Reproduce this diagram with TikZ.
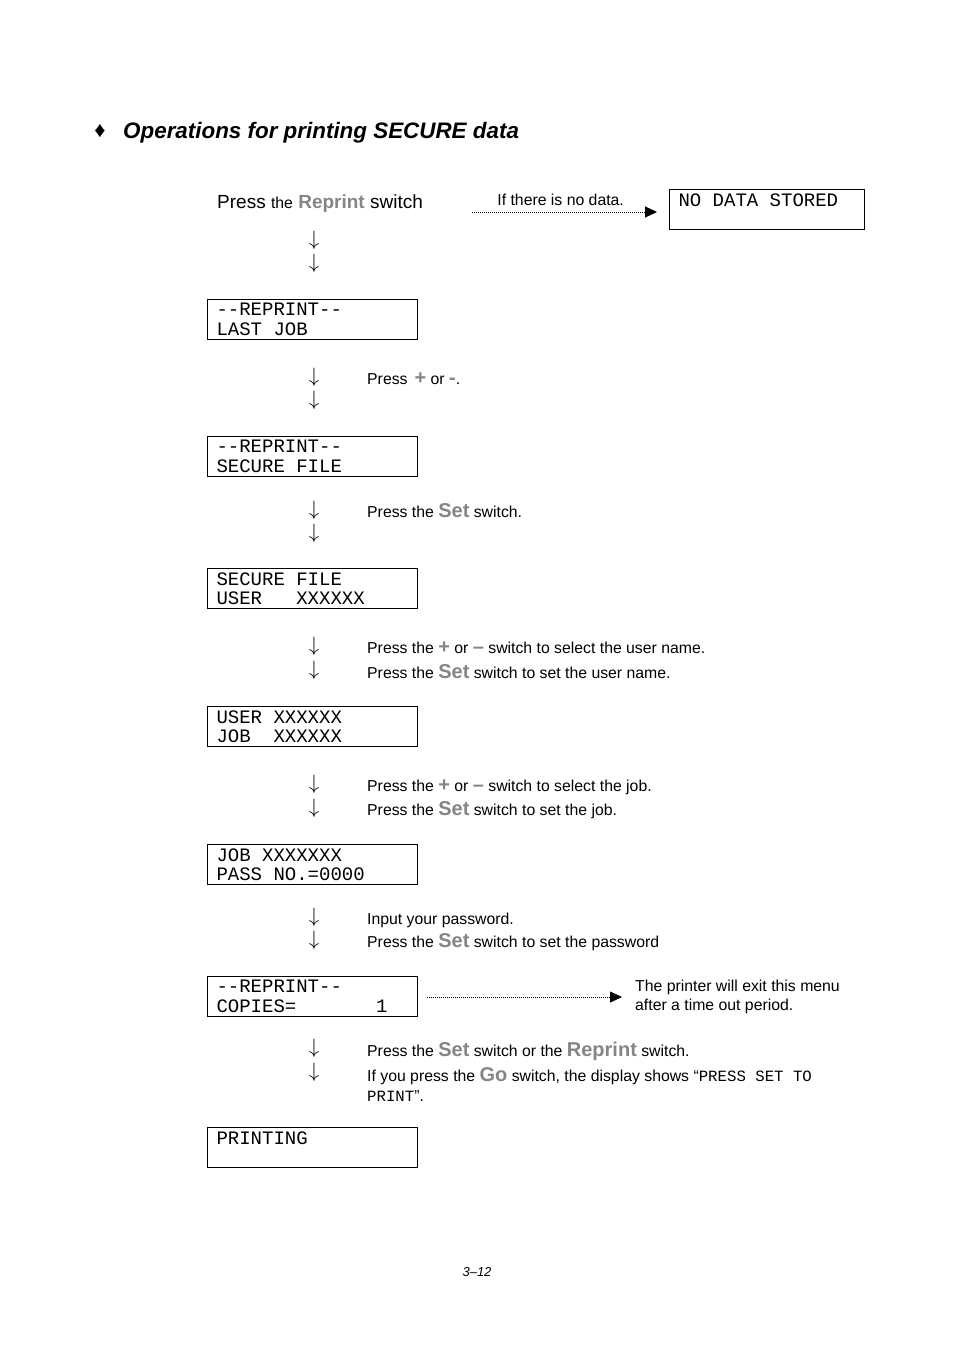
\documentclass[tikz,border=0pt]{standalone}
\usepackage{fontspec}
\setmainfont{Liberation Sans}
\newfontfamily\lcdfamily{Liberation Mono}[Ligatures=ResetAll]
\usepackage{tikz}
\usetikzlibrary{positioning,arrows.meta}
\definecolor{keygray}{HTML}{858585}
\newcommand{\bodyfont}{\fontsize{15.8}{19}\selectfont}
\newcommand{\lcdfont}{\lcdfamily\fontsize{19}{19.5}\selectfont}
\newcommand{\titlefont}{\fontsize{22.4}{26}\selectfont\bfseries\itshape}
\newcommand{\keyname}[1]{{\fontsize{20}{20}\selectfont\bfseries\color{keygray}#1}}
\newcommand{\monotext}[1]{{\lcdfamily\fontsize{15.7}{19}\selectfont #1}}

\begin{document}
\begin{tikzpicture}[x=1pt,y=-1pt,
  lcd/.style={draw,line width=1pt,anchor=north west,minimum height=40pt,text width=192pt,inner xsep=9pt,inner ysep=2pt,align=left,font=\lcdfont,
    execute at begin node={\spaceskip=0.6em\relax\xspaceskip=0.6em\relax}},
  txt/.style={anchor=base west,inner sep=0pt,font=\bodyfont},
  dn/.style={inner sep=0pt,font=\fontsize{20}{20}\selectfont},
  dots/.style={line width=0.8pt,dash pattern=on 0.8pt off 1.2pt,-{Triangle[length=12pt,width=11pt]}}
]
\useasboundingbox (0,0) rectangle (954,1351);
% heading
\node[font=\fontsize{22}{22}\selectfont] (bullet) at (100,131) {♦};
\node[anchor=base west,inner sep=0pt,font=\titlefont] (title) at (123,139) {Operations for printing SECURE data};

% start
\node[txt,font=\fontsize{19}{19}\selectfont] (press) at (217,208) {Press {\bodyfont the} {\bfseries\color{keygray}Reprint} switch};
\coordinate (nd) at (472,212);
\node[lcd,text width=177pt] (nodata) at (669,189) {NO DATA STORED\\\mbox{}};
\draw[dots,shorten >=12pt] (nd) -- (nd -| nodata.west)
   node[pos=0.45,above=3pt,font=\bodyfont] {If there is no data.};
\node[dn] (d1a) at (314,240) {$\downarrow$};
\node[dn] (d1b) at (314,263) {$\downarrow$};

% last job
\node[lcd] (lastjob) at (207,299) {--REPRINT--\\LAST JOB};
\node[dn] (d2a) at (314,377) {$\downarrow$};
\node[dn] (d2b) at (314,400) {$\downarrow$};
\node[txt] (t2) at (367,384.5) {Press \,\keyname{+} or \keyname{-}.};

% secure file
\node[lcd] (secure) at (207,436) {--REPRINT--\\SECURE FILE};
\node[dn] (d3a) at (314,510) {$\downarrow$};
\node[dn] (d3b) at (314,533) {$\downarrow$};
\node[txt] (t3) at (367,517.5) {Press the \keyname{Set} switch.};

% user
\node[lcd] (user) at (207,568) {SECURE FILE\\USER\ \ \ XXXXXX};
\node[dn] (d4a) at (314,646) {$\downarrow$};
\node[dn] (d4b) at (314,670) {$\downarrow$};
\node[txt] (t4a) at (367,653.5) {Press the \keyname{+} or \keyname{–} switch to select the user name.};
\node[txt] (t4b) at (367,678.5) {Press the \keyname{Set} switch to set the user name.};

% job
\node[lcd] (job) at (207,706) {USER XXXXXX\\JOB\ \ XXXXXX};
\node[dn] (d5a) at (314,784) {$\downarrow$};
\node[dn] (d5b) at (314,808) {$\downarrow$};
\node[txt] (t5a) at (367,791.5) {Press the \keyname{+} or \keyname{–} switch to select the job.};
\node[txt] (t5b) at (367,815.5) {Press the \keyname{Set} switch to set the job.};

% password
\node[lcd] (pass) at (207,844) {JOB XXXXXXX\\PASS NO.=0000};
\node[dn] (d6a) at (314,917) {$\downarrow$};
\node[dn] (d6b) at (314,940) {$\downarrow$};
\node[txt] (t6a) at (367,924.5) {Input your password.};
\node[txt] (t6b) at (367,947.5) {Press the \keyname{Set} switch to set the password};

% copies
\node[lcd] (copies) at (207,976) {--REPRINT--\\COPIES=\ \ \ \ \ \ \ 1};
\node[anchor=west,inner sep=0pt,align=left,font=\bodyfont] (timeout) at (635,997) {The printer will exit this menu\\after a time out period.};
\draw[dots,shorten <=9pt,shorten >=13pt] (copies.east |- 0,997) -- (timeout.west);
\node[dn] (d7a) at (314,1048) {$\downarrow$};
\node[dn] (d7b) at (314,1072) {$\downarrow$};
\node[txt] (t7a) at (367,1056.5) {Press the \keyname{Set} switch or the \keyname{Reprint} switch.};
\node[txt] (t7b) at (367,1081.5) {If you press the \keyname{Go} switch, the display shows “\monotext{PRESS SET TO}};
\node[txt] (t7c) at (367,1101.5) {\monotext{PRINT}”.};

% printing
\node[lcd] (printing) at (207,1127) {PRINTING\\\mbox{}};

\node[font=\fontsize{13}{14}\selectfont\itshape] (pageno) at (477,1272) {3–12};
\end{tikzpicture}
\end{document}
